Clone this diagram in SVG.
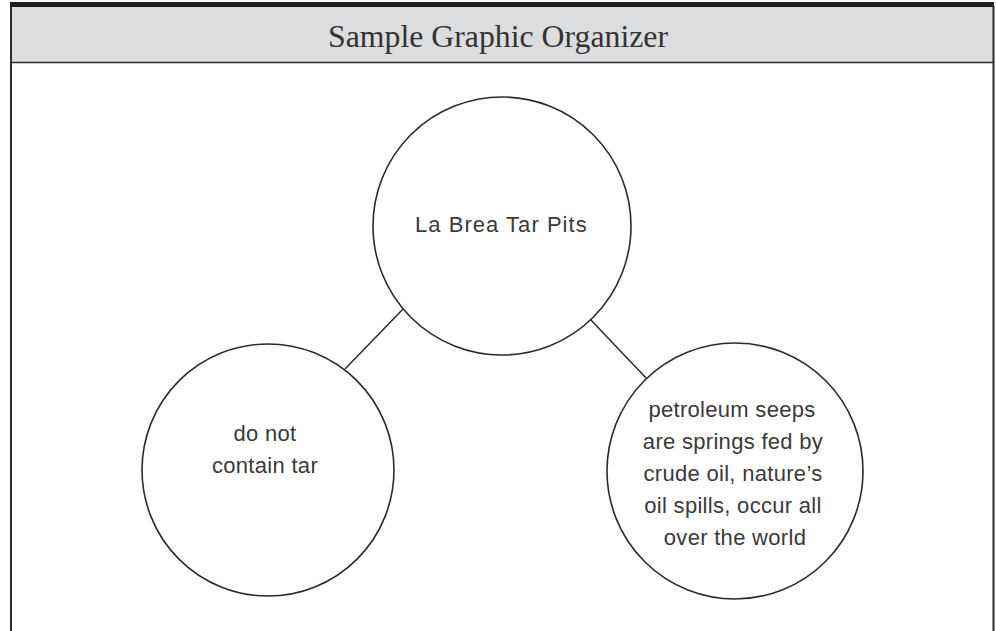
<svg xmlns="http://www.w3.org/2000/svg" width="996" height="631" viewBox="0 0 996 631">
<style>
.node circle{fill:#fff;stroke:#2b2b2b;stroke-width:1.6}
.lbl{font-family:"Liberation Sans","DejaVu Sans",sans-serif;font-size:22px;fill:#3a3a3a;text-anchor:middle;letter-spacing:0.3px}
.conn line{stroke:#2b2b2b;stroke-width:1.5}
.title{font-family:"Liberation Serif","DejaVu Serif",serif;font-size:32px;fill:#333;text-anchor:middle}
</style>
<rect x="0" y="0" width="996" height="631" fill="#fff"/>
<g id="frame">
<rect x="11" y="6" width="982" height="56" fill="#dcdddf"/>
<rect x="10" y="2" width="984" height="5" fill="#231f20"/>
<line x1="11" y1="62.5" x2="993" y2="62.5" stroke="#2b2b2b" stroke-width="1.6"/>
<line x1="11" y1="6" x2="11" y2="631" stroke="#2b2b2b" stroke-width="2"/>
<line x1="993.5" y1="6" x2="993.5" y2="631" stroke="#2b2b2b" stroke-width="2"/>
<text class="title" x="498" y="47" textLength="340" lengthAdjust="spacingAndGlyphs">Sample Graphic Organizer</text>
</g>
<g class="conn" id="connectors">
<line x1="405" y1="307" x2="345" y2="369"/>
<line x1="590" y1="319" x2="647" y2="379"/>
</g>
<g class="node" id="node-main">
<circle cx="502" cy="226" r="129"/>
<text class="lbl" x="501" y="232" textLength="172">La Brea Tar Pits</text>
</g>
<g class="node" id="node-left">
<circle cx="268" cy="470" r="126"/>
<text class="lbl" x="265" y="441">do not</text>
<text class="lbl" x="265" y="473">contain tar</text>
</g>
<g class="node" id="node-right">
<circle cx="735" cy="471" r="128"/>
<text class="lbl" x="732" y="417">petroleum seeps</text>
<text class="lbl" x="733" y="449">are springs fed by</text>
<text class="lbl" x="733" y="481">crude oil, nature’s</text>
<text class="lbl" x="733" y="513">oil spills, occur all</text>
<text class="lbl" x="735" y="545">over the world</text>
</g>
</svg>
